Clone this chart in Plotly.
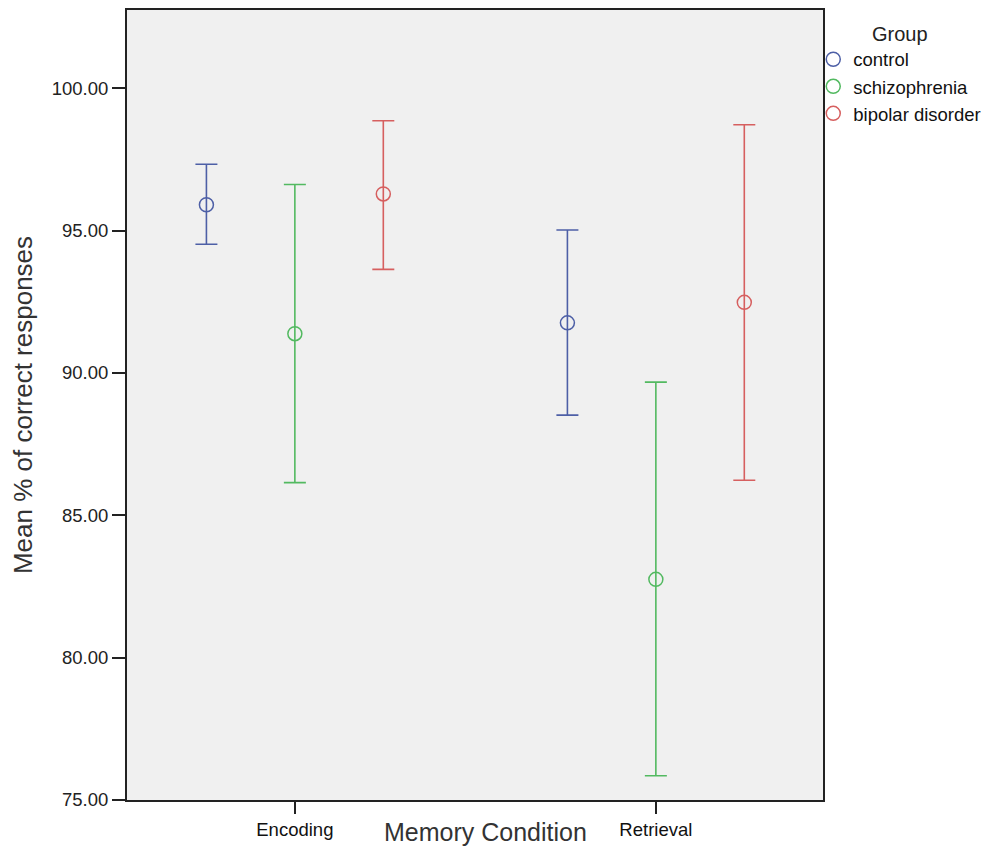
import plotly.graph_objects as go

# Memory conditions on the x axis
conditions = ["Encoding", "Retrieval"]

# Group means and 95% CI bounds (% correct responses)
groups = ["control", "schizophrenia", "bipolar disorder"]
colors = ["#4d5fa6", "#52b960", "#d65f5f"]

means = {
    "control":          [95.91, 91.76],
    "schizophrenia":    [91.38, 82.75],
    "bipolar disorder": [96.29, 92.48],
}
lower = {
    "control":          [94.52, 88.52],
    "schizophrenia":    [86.15, 75.85],
    "bipolar disorder": [93.64, 86.23],
}
upper = {
    "control":          [97.33, 95.02],
    "schizophrenia":    [96.62, 89.68],
    "bipolar disorder": [98.86, 98.72],
}

y_ticks = [75, 80, 85, 90, 95, 100]

# horizontal offset of each group around its condition position
group_offset = [-0.245, 0.0, 0.245]

font_family = "Liberation Sans, Arial, sans-serif"

fig = go.Figure()
for g, col, off in zip(groups, colors, group_offset):
    m = means[g]
    xs = [i + off for i in range(len(conditions))]
    fig.add_trace(go.Scatter(
        x=xs,
        y=m,
        mode="markers",
        name=g,
        marker=dict(symbol="circle-open", size=14, color=col,
                    line=dict(width=1.5, color=col)),
        error_y=dict(
            type="data",
            symmetric=False,
            array=[u - v for u, v in zip(upper[g], m)],
            arrayminus=[v - l for v, l in zip(m, lower[g])],
            color=col,
            thickness=1.6,
            width=11,
        ),
    ))

fig.update_layout(
    width=987,
    height=854,
    margin=dict(l=127, r=164, t=10, b=54, autoexpand=False),
    paper_bgcolor="white",
    plot_bgcolor="#f0f0f0",
    font=dict(family=font_family, color="#222"),
    showlegend=True,
    legend=dict(
        title=dict(text="Group", side="top center",
                   font=dict(size=20, family=font_family, color="#222")),
        font=dict(size=18.5, family=font_family, color="#111"),
        x=0.986, xanchor="left",
        y=0.994, yanchor="top",
        bgcolor="rgba(0,0,0,0)",
        tracegroupgap=0,
        itemwidth=30,
    ),
    xaxis=dict(
        range=[-0.465, 1.463],
        tickmode="array",
        tickvals=list(range(len(conditions))),
        ticktext=conditions,
        ticks="outside",
        ticklen=12,
        tickwidth=2,
        tickcolor="#222",
        showgrid=False,
        zeroline=False,
        showline=True,
        linecolor="#222",
        linewidth=2,
        mirror=True,
        tickfont=dict(size=18.5, family=font_family, color="#111"),
        automargin=False,
    ),
    yaxis=dict(
        range=[75, 102.75],
        tickmode="array",
        tickvals=y_ticks,
        tickformat=".2f",
        ticks="outside",
        ticklen=13,
        tickwidth=2,
        tickcolor="#222",
        showgrid=False,
        zeroline=False,
        showline=True,
        linecolor="#222",
        linewidth=2,
        mirror=True,
        tickfont=dict(size=18.5, family=font_family, color="#222"),
        title=dict(text="Mean % of correct responses",
                   font=dict(size=26, family=font_family, color="#333"),
                   standoff=12),
        automargin=False,
    ),
    annotations=[
        dict(text="Memory Condition", xref="paper", yref="paper",
             x=0.515, y=-0.04, xanchor="center", yanchor="middle",
             showarrow=False,
             font=dict(size=25, family=font_family, color="#333")),
    ],
)

fig.write_html("out.html")
